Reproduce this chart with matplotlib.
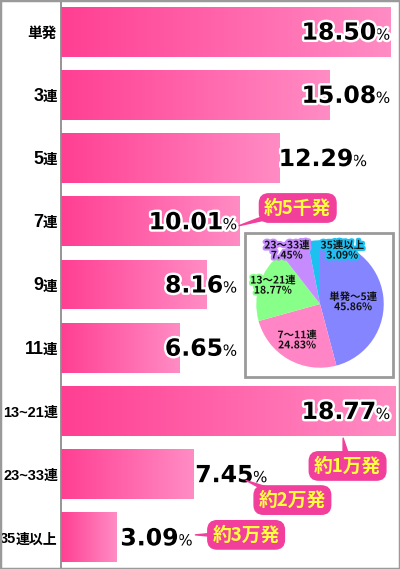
#!/usr/bin/env python3
"""Bonus-chain distribution: gradient bar chart with pie inset."""

import re

import matplotlib

matplotlib.use("Agg")
import matplotlib.pyplot as plt
import matplotlib.patheffects as pe
import matplotlib.transforms as mtransforms
import numpy as np
from matplotlib.colors import LinearSegmentedColormap
from matplotlib.patches import Rectangle

CATEGORIES = ["単発", "3連", "5連", "7連", "9連", "11連", "13~21連", "23~33連", "35連以上"]
VALUES = [18.50, 15.08, 12.29, 10.01, 8.16, 6.65, 18.77, 7.45, 3.09]

PIE_LABELS = ["単発〜5連", "7〜11連", "13〜21連", "23〜33連", "35連以上"]
PIE_VALUES = [45.86, 24.83, 18.77, 7.45, 3.09]

CALLOUT_TEXTS = ["約5千発", "約1万発", "約2万発", "約3万発"]

# styling / placement
PIE_COLORS = ["#8585ff", "#ff85c6", "#88ff88", "#c68cff", "#1ec0f2"]
PIE_LABEL_POS = [(0.52, 0.03), (-0.36, -0.57), (-0.74, 0.29), (-0.52, 0.84), (0.35, 0.84)]
LABEL_END = [18.5, 18.5, 17.2, 9.9, 9.9, 9.9, 18.5, 11.6, 7.4]
CALLOUT_POS = [  # (text xy, tip xy) in bar-axis data units
    ((13.3, 2.79), (10.0, 3.07)),
    ((16.1, 6.87), (15.85, 6.43)),
    ((13.0, 7.41), (10.4, 7.10)),
    ((10.4, 7.96), (7.55, 7.96)),
]

JP = ["Noto Sans CJK JP", "DejaVu Sans"]
NARROW = ["Liberation Sans Narrow", "Liberation Sans", "DejaVu Sans"]
PINK_L, PINK_R = "#ff3f92", "#ff8cc4"
CALLOUT_PINK = "#f23f9c"
CALLOUT_YELLOW = "#ffff3c"

W, H = 400, 569
fig = plt.figure(figsize=(W / 100, H / 100), dpi=100)
ax = fig.add_axes([61 / W, 0, (W - 61) / W, 1])

grad = LinearSegmentedColormap.from_list("bar", [PINK_L, PINK_R])
bars = ax.barh(range(len(VALUES)), VALUES, height=0.79, color="none", edgecolor="none")
for bar in bars:
    x0, y0 = bar.get_x(), bar.get_y()
    w, h = bar.get_width(), bar.get_height()
    im = ax.imshow(np.linspace(0, 1, 256)[None, :], cmap=grad, aspect="auto",
                   extent=(x0, x0 + w, y0 + h, y0), zorder=1, interpolation="bilinear")
    im.set_clip_path(bar)
ax.set_xlim(0, (W - 61) / 17.8)
ax.set_ylim(len(CATEGORIES) - 0.5, -0.5)

ax.set_yticks([])
ax.set_xticks([])
for side in ["top", "right", "bottom"]:
    ax.spines[side].set_visible(False)
ax.spines["left"].set_color("#8c8c8c")
ax.spines["left"].set_linewidth(1.3)

# category labels: digits slightly larger than the kanji
renderer = fig.canvas.get_renderer()
ytrans = mtransforms.blended_transform_factory(ax.transAxes, ax.transData)
for i, cat in enumerate(CATEGORIES):
    m = re.match(r"^[0-9~]+", cat)
    num = m.group(0) if m else ""
    kanji = cat[len(num):]
    short = len(cat) <= 3
    t = ax.annotate(kanji, (0, i), xycoords=ytrans, xytext=(-4, -6), textcoords="offset pixels",
                    ha="right", va="baseline", fontsize=10 if (num and not short) else 10.5,
                    fontweight="bold", family=JP, annotation_clip=False)
    if num:
        bb = t.get_window_extent(renderer)
        x_left = bb.x0 - ax.transAxes.transform((0, 0))[0]
        ax.annotate(num, (0, i), xycoords=ytrans, xytext=(x_left + 1, -6), textcoords="offset pixels",
                    ha="right", va="baseline", fontsize=13 if short else 10.5, fontweight="bold",
                    family=NARROW, annotation_clip=False)

outline = [pe.withStroke(linewidth=3.5, foreground="white")]
for i, (v, end) in enumerate(zip(VALUES, LABEL_END)):
    ax.annotate("%", (end, i), xytext=(0, -8), textcoords="offset pixels",
                ha="right", va="baseline", fontsize=11, color="black",
                family="DejaVu Sans", path_effects=outline, zorder=4)
    ax.annotate(f"{v:.2f}", (end, i), xytext=(-14, -8), textcoords="offset pixels",
                ha="right", va="baseline", fontsize=17, fontweight="bold", color="black",
                family="DejaVu Sans", path_effects=outline, zorder=4)

for text, (txy, tip) in zip(CALLOUT_TEXTS, CALLOUT_POS):
    ax.annotate(text, xy=tip, xytext=txy, ha="center", va="center",
                fontsize=13.5, fontweight="bold", color=CALLOUT_YELLOW, family=JP,
                bbox=dict(boxstyle="round,pad=0.25,rounding_size=0.5", fc=CALLOUT_PINK, ec=CALLOUT_PINK),
                arrowprops=dict(arrowstyle="wedge,tail_width=0.5,shrink_factor=0.5",
                                fc=CALLOUT_PINK, ec=CALLOUT_PINK, patchA=None,
                                shrinkA=0, shrinkB=0),
                zorder=6)

# pie inset
fig.add_artist(Rectangle((245 / W, 1 - 377 / H), 148 / W, 144 / H, transform=fig.transFigure,
                         fc="white", ec="#9a9a9a", lw=2, zorder=3))
pax = fig.add_axes([255 / W, 1 - 369 / H, 130 / W, 130 / H], zorder=4)
pax.pie(PIE_VALUES, colors=PIE_COLORS, startangle=90, counterclock=False,
        wedgeprops=dict(linewidth=0))
pax.set_xlim(-1.02, 1.02)
pax.set_ylim(-1.02, 1.02)
pax.set_aspect("auto")
pax.axis("off")
for label, val, col, (px, py) in zip(PIE_LABELS, PIE_VALUES, PIE_COLORS, PIE_LABEL_POS):
    pax.text(px, py, f"{label}\n{val:.2f}%", ha="center", va="center", fontsize=7.5,
             fontweight="bold", family=JP, linespacing=1.0, color="#111111",
             path_effects=[pe.withStroke(linewidth=3, foreground=col)], clip_on=False)

fig.add_artist(Rectangle((0, 0), 1, 1, transform=fig.transFigure, fill=False,
                         ec="#9a9a9a", lw=2.5, zorder=10))

fig.savefig("out.png", dpi=100)
